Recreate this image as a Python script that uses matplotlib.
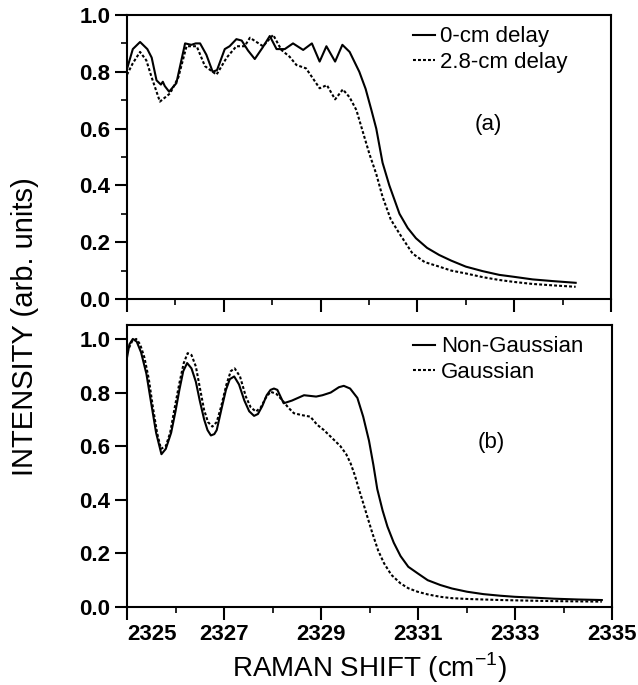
import numpy as np
import matplotlib
matplotlib.use("Agg")
import matplotlib.pyplot as plt

plt.rcParams['font.family'] = ['Liberation Sans', 'DejaVu Sans']
plt.rcParams['mathtext.fontset'] = 'custom'
plt.rcParams['mathtext.rm'] = 'Liberation Sans'

# (a) measured spectra, 0-cm and 2.8-cm delay
a_x0 = [2325.0, 2325.12, 2325.27, 2325.42, 2325.51, 2325.61, 2325.70, 2325.74, 2325.78, 2325.87,
        2326.02, 2326.20, 2326.33, 2326.42, 2326.51, 2326.64, 2326.77, 2326.86, 2327.02, 2327.12,
        2327.26, 2327.37, 2327.50, 2327.64, 2327.80, 2327.95, 2328.09, 2328.26, 2328.43, 2328.64,
        2328.82, 2328.98, 2329.12, 2329.30, 2329.45, 2329.60, 2329.80, 2329.93, 2330.05, 2330.15,
        2330.28, 2330.42, 2330.63, 2330.80, 2330.97, 2331.2, 2331.45, 2331.7, 2332.0, 2332.35,
        2332.69, 2333.0, 2333.38, 2333.8, 2334.27]
a_y0 = [0.81, 0.88, 0.905, 0.88, 0.85, 0.77, 0.755, 0.765, 0.75, 0.73,
        0.76, 0.90, 0.895, 0.90, 0.90, 0.86, 0.80, 0.806, 0.88, 0.89,
        0.915, 0.91, 0.875, 0.845, 0.885, 0.926, 0.88, 0.88, 0.90, 0.877,
        0.90, 0.836, 0.89, 0.836, 0.895, 0.87, 0.80, 0.74, 0.665, 0.60,
        0.48, 0.40, 0.30, 0.25, 0.214, 0.18, 0.155, 0.135, 0.114, 0.098,
        0.085, 0.078, 0.069, 0.063, 0.057]

a_x28 = [2325.0, 2325.12, 2325.27, 2325.40, 2325.51, 2325.68, 2325.89, 2326.06, 2326.23, 2326.44,
         2326.61, 2326.85, 2327.06, 2327.26, 2327.43, 2327.54, 2327.81, 2328.02, 2328.19, 2328.36,
         2328.50, 2328.70, 2328.98, 2329.13, 2329.30, 2329.46, 2329.60, 2329.74, 2329.87, 2330.01,
         2330.15, 2330.28, 2330.45, 2330.63, 2330.90, 2331.15, 2331.45, 2331.7, 2332.0, 2332.35,
         2332.69, 2333.0, 2333.38, 2333.8, 2334.27]
a_y28 = [0.79, 0.83, 0.87, 0.84, 0.78, 0.695, 0.724, 0.78, 0.89, 0.89,
         0.82, 0.79, 0.85, 0.89, 0.89, 0.92, 0.89, 0.93, 0.877, 0.853,
         0.824, 0.812, 0.742, 0.753, 0.703, 0.738, 0.71, 0.665, 0.59, 0.51,
         0.44, 0.36, 0.28, 0.23, 0.16, 0.13, 0.114, 0.10, 0.09, 0.077,
         0.067, 0.06, 0.053, 0.048, 0.043]

# (b) calculated spectra
b_xng = [2325.0, 2325.05, 2325.12, 2325.2, 2325.29, 2325.4, 2325.49, 2325.6, 2325.71, 2325.8,
         2325.91, 2326.0, 2326.08, 2326.16, 2326.24, 2326.33, 2326.42, 2326.5, 2326.59, 2326.66,
         2326.73, 2326.8, 2326.85, 2326.95, 2327.04, 2327.12, 2327.21, 2327.31, 2327.42, 2327.52,
         2327.62, 2327.7, 2327.79, 2327.88, 2327.96, 2328.03, 2328.10, 2328.23, 2328.4, 2328.65,
         2328.9, 2329.03, 2329.2, 2329.37, 2329.47, 2329.6, 2329.75, 2329.87, 2329.99, 2330.08,
         2330.16, 2330.27, 2330.37, 2330.5, 2330.64, 2330.8, 2330.99, 2331.2, 2331.46, 2331.7,
         2332.01, 2332.35, 2332.70, 2333.0, 2333.38, 2333.8, 2334.3, 2334.79]
b_yng = [0.93, 0.98, 1.0, 0.99, 0.95, 0.87, 0.77, 0.65, 0.57, 0.59,
         0.65, 0.73, 0.81, 0.88, 0.91, 0.89, 0.84, 0.77, 0.70, 0.66,
         0.64, 0.645, 0.66, 0.74, 0.81, 0.85, 0.86, 0.83, 0.77, 0.73,
         0.713, 0.72, 0.75, 0.79, 0.81, 0.815, 0.81, 0.76, 0.77, 0.79,
         0.785, 0.79, 0.80, 0.82, 0.825, 0.815, 0.78, 0.71, 0.62, 0.53,
         0.44, 0.36, 0.30, 0.24, 0.19, 0.15, 0.126, 0.10, 0.082, 0.069,
         0.057, 0.048, 0.042, 0.038, 0.035, 0.031, 0.028, 0.026]

b_xg = [2325.0, 2325.1, 2325.19, 2325.27, 2325.36, 2325.45, 2325.53, 2325.62, 2325.70, 2325.8,
        2325.89, 2325.98, 2326.08, 2326.17, 2326.25, 2326.33, 2326.42, 2326.5, 2326.59, 2326.67,
        2326.76, 2326.85, 2326.94, 2327.05, 2327.14, 2327.22, 2327.33, 2327.45, 2327.55, 2327.66,
        2327.76, 2327.86, 2327.96, 2328.08, 2328.20, 2328.32, 2328.44, 2328.6, 2328.78, 2328.92,
        2329.06, 2329.27, 2329.4, 2329.52, 2329.61, 2329.7, 2329.78, 2329.85, 2329.95, 2330.06,
        2330.18, 2330.30, 2330.45, 2330.64, 2330.8, 2330.99, 2331.2, 2331.46, 2331.7, 2332.01,
        2332.35, 2332.70, 2333.2, 2333.8, 2334.3, 2334.79]
b_yg = [0.95, 0.99, 1.0, 0.98, 0.93, 0.85, 0.75, 0.65, 0.59, 0.60,
        0.65, 0.74, 0.835, 0.91, 0.947, 0.94, 0.897, 0.82, 0.735, 0.69,
        0.673, 0.69, 0.747, 0.83, 0.88, 0.89, 0.86, 0.785, 0.745, 0.729,
        0.745, 0.78, 0.803, 0.795, 0.772, 0.745, 0.723, 0.716, 0.71, 0.68,
        0.66, 0.623, 0.60, 0.57, 0.536, 0.49, 0.44, 0.40, 0.34, 0.275,
        0.21, 0.163, 0.12, 0.088, 0.07, 0.057, 0.047, 0.038, 0.033, 0.03,
        0.028, 0.026, 0.024, 0.022, 0.021, 0.02]

xticks = [2325, 2327, 2329, 2331, 2333, 2335]
xminor = [2326, 2328, 2330, 2332, 2334]
yticks = [0.0, 0.2, 0.4, 0.6, 0.8, 1.0]

dots = (0, (1.4, 1.0))
W, H = 638, 685
fig = plt.figure(figsize=(W / 100, H / 100), dpi=100)
ax1 = fig.add_axes([127 / W, 1 - 299 / H, 484 / W, 284 / H])
ax2 = fig.add_axes([127 / W, 1 - 607 / H, 485 / W, 282 / H])

ax1.plot(a_x0, a_y0, color='black', lw=1.5, label='0-cm delay')
ax1.plot(a_x28, a_y28, color='black', lw=1.5, ls=dots, label='2.8-cm delay')
ax2.plot(b_xng, b_yng, color='black', lw=1.5, label='Non-Gaussian')
ax2.plot(b_xg, b_yg, color='black', lw=1.5, ls=dots, label='Gaussian')

ax1.set_ylim(0, 1.0)
ax2.set_ylim(0, 1.052)

for ax in (ax1, ax2):
    ax.set_xlim(2325, 2335)
    ax.set_xticks(xticks)
    ax.set_xticks(xminor, minor=True)
    ax.set_yticks(yticks)
    ax.set_yticklabels(['%.1f' % v for v in yticks], fontsize=16, fontweight='bold')
    for s in ax.spines.values():
        s.set_linewidth(1.5)
    ax.tick_params(which='major', direction='out', length=9, width=1.5, pad=3)
    ax.tick_params(which='minor', direction='out', length=4.5, width=1.2)
    ax.legend(loc='upper left', bbox_to_anchor=(0.59, 0.96), frameon=False,
              handlelength=1.0, handletextpad=0.25, labelspacing=0.2,
              borderaxespad=0, borderpad=0, fontsize=16)

ax1.set_yticks(np.arange(0.1, 1.0, 0.2), minor=True)
ax1.set_xticklabels([])
ax2.set_xticklabels([str(v) for v in xticks], fontsize=16, fontweight='bold')
ax2.get_xticklabels()[0].set_horizontalalignment('left')

ax1.text(0.746, 0.613, '(a)', transform=ax1.transAxes, fontsize=16, ha='center', va='center')
ax2.text(0.752, 0.585, '(b)', transform=ax2.transAxes, fontsize=16, ha='center', va='center')

fig.text(369 / W, 1 - 677 / H, r'RAMAN SHIFT (cm$^{\mathregular{-1}}$)', fontsize=20,
         ha='center', va='baseline')
fig.text(25 / W, 1 - 327 / H, 'INTENSITY (arb. units)', fontsize=21, rotation=90,
         ha='center', va='center')

fig.savefig('out.png', dpi=100)
